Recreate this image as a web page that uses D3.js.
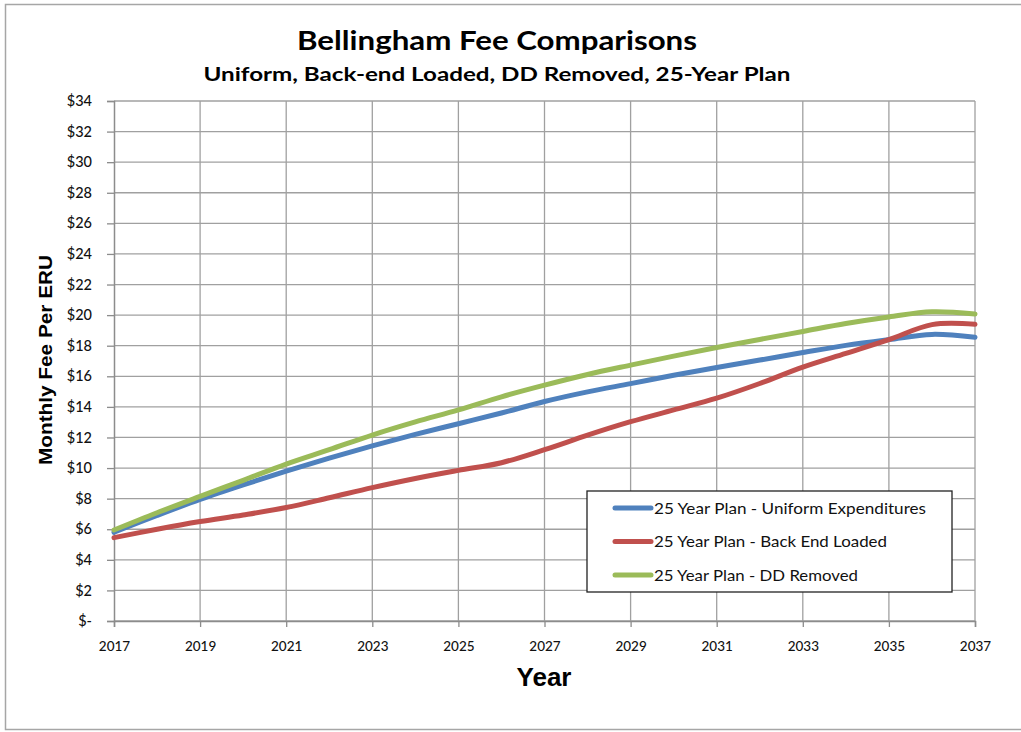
<!DOCTYPE html>
<html><head><meta charset="utf-8">
<script src="https://cdn.jsdelivr.net/npm/d3@7"></script>
<style>body{margin:0;background:#fff}svg{display:block}</style>
</head><body>
<svg id="c" width="1021" height="732"></svg>
<script>
const years = d3.range(2017, 2038);
const uniform = [5.8,6.9,7.95,8.9,9.8,10.65,11.45,12.2,12.9,13.6,14.35,14.98,15.52,16.07,16.58,17.06,17.55,18.02,18.4,18.74,18.55];
const backEnd = [5.45,6.0,6.5,6.93,7.42,8.06,8.72,9.32,9.85,10.35,11.2,12.15,13.03,13.8,14.57,15.53,16.6,17.5,18.4,19.38,19.4];
const ddRemoved = [5.95,7.08,8.15,9.2,10.26,11.2,12.16,13.02,13.8,14.66,15.42,16.12,16.73,17.32,17.88,18.41,18.93,19.45,19.88,20.22,20.07];
const seriesNames = ["25 Year Plan - Uniform Expenditures","25 Year Plan - Back End Loaded","25 Year Plan - DD Removed"];
const seriesColors = ["#4F81BD","#C0504D","#9BBB59"];
const yTicks = d3.range(0, 35, 2);
const xTicks = d3.range(2017, 2038, 2);

const svg = d3.select("#c");
const font = "Lato, 'Open Sans', sans-serif";
// frame
svg.append("rect").attr("x",5.5).attr("y",4.5).attr("width",1030).attr("height",725)
  .attr("fill","#fff").attr("stroke","#a6a6a6").attr("stroke-width",1.5);

const L=114, R=975, T=101, B=621;
const x = d3.scaleLinear().domain([2017,2037]).range([L,R]);
const y = d3.scaleLinear().domain([0,34]).range([B,T]);

// gridlines
const g = svg.append("g");
g.selectAll(".hg").data(yTicks).join("line")
  .attr("x1",L).attr("x2",R).attr("y1",d=>y(d)).attr("y2",d=>y(d))
  .attr("stroke","#a0a0a0").attr("stroke-width",1.3);
g.selectAll(".vg").data(xTicks.slice(1)).join("line")
  .attr("x1",d=>x(d)).attr("x2",d=>x(d)).attr("y1",T).attr("y2",B)
  .attr("stroke","#a0a0a0").attr("stroke-width",1.3);

// axes
const yAxis = d3.axisLeft(y).tickValues(yTicks).tickSize(7).tickPadding(15)
  .tickFormat(d => d===0 ? "$-" : "$"+d);
const ya = svg.append("g").attr("transform",`translate(${L},0)`).call(yAxis);
const xAxis = d3.axisBottom(x).tickValues(xTicks).tickSize(6).tickPadding(14).tickFormat(d3.format("d"));
const xa = svg.append("g").attr("transform",`translate(0,${B})`).call(xAxis);
[ya,xa].forEach(a=>{
  a.select(".domain").attr("stroke","#8c8c8c").attr("stroke-width",1.5);
  a.selectAll(".tick line").attr("stroke","#8c8c8c").attr("stroke-width",1.3);
  a.selectAll("text").attr("font-family",font).attr("fill","#111").attr("font-weight",500);
});
ya.selectAll("text").attr("font-size",14.5);
xa.selectAll("text").attr("font-size",13.5);

// lines
const line = d3.line().x((d,i)=>x(years[i])).y(d=>y(d)).curve(d3.curveCatmullRom.alpha(0.5));
[uniform, backEnd, ddRemoved].forEach((s,i)=>{
  svg.append("path").attr("d",line(s)).attr("fill","none")
    .attr("stroke",seriesColors[i]).attr("stroke-width",5).attr("stroke-linecap","round");
});

// titles
svg.append("text").attr("x",497).attr("y",50).attr("text-anchor","middle")
  .attr("font-family",font).attr("font-weight",700).attr("font-size",27).attr("fill","#000")
  .attr("textLength",400).attr("lengthAdjust","spacingAndGlyphs").text("Bellingham Fee Comparisons");
svg.append("text").attr("x",497).attr("y",81).attr("text-anchor","middle")
  .attr("font-family",font).attr("font-weight",700).attr("font-size",19).attr("fill","#000")
  .attr("textLength",587).attr("lengthAdjust","spacingAndGlyphs").text("Uniform, Back-end Loaded, DD Removed, 25-Year Plan");
svg.append("text").attr("x",544).attr("y",686).attr("text-anchor","middle")
  .attr("font-family","'Liberation Sans', Arial, sans-serif").attr("font-weight",700).attr("font-size",26).attr("fill","#000")
  .text("Year");
svg.append("text").attr("transform","translate(52,360) rotate(-90)").attr("text-anchor","middle")
  .attr("font-family","'Liberation Sans', Arial, sans-serif").attr("font-weight",700).attr("font-size",19).attr("fill","#000")
  .attr("textLength",210).attr("lengthAdjust","spacingAndGlyphs")
  .text("Monthly Fee Per ERU");

// legend
const legendWidths = [272,233,204];
const lg = svg.append("g");
lg.append("rect").attr("x",587).attr("y",491).attr("width",365).attr("height",101)
  .attr("fill","#fff").attr("stroke","#222").attr("stroke-width",1.3);
seriesNames.forEach((n,i)=>{
  const yy = 508 + i*33.5;
  lg.append("line").attr("x1",615).attr("x2",651).attr("y1",yy).attr("y2",yy)
    .attr("stroke",seriesColors[i]).attr("stroke-width",5).attr("stroke-linecap","round");
  lg.append("text").attr("x",654).attr("y",yy+5.5).attr("font-family",font).attr("font-size",16)
    .attr("fill","#111").attr("textLength",legendWidths[i]).attr("lengthAdjust","spacingAndGlyphs").text(n);
});
</script>
</body></html>
